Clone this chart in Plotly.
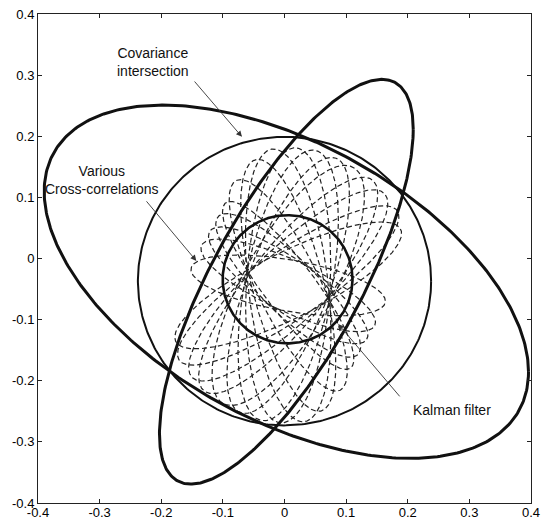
import numpy as np
import plotly.graph_objects as go

# ---- data ----
tick_vals = [-0.4, -0.3, -0.2, -0.1, 0.0, 0.1, 0.2, 0.3, 0.4]
tick_text = ["-0.4", "-0.3", "-0.2", "-0.1", "0", "0.1", "0.2", "0.3", "0.4"]

# outer solid ellipses: centre and covariance entries (sxx, sxy, syy)
ellipseA_center = [0.003, -0.038]
ellipseA_cov = [0.1544, -0.058, 0.0835]
ellipseB_center = [0.003, -0.038]
ellipseB_cov = [0.0424, 0.0513, 0.1096]

# covariance intersection ellipse
ci_center = [0.0, -0.037]
ci_cov = [0.0566, 0.0, 0.0557]

# Kalman filter ellipse
kalman_center = [0.005, -0.034]
kalman_cov = [0.0111, 0.0, 0.0110]

# various cross-correlation ellipses (dashed): common centre, each one given by two
# conjugate semi-diameters (angle in degrees, length)
cross_center = [0.006, -0.044]
cross_d_angle = [-24, -14, -21, -12, -23, -16, -20, -13, -22, -15, -19, -18, 225, 235, 245, 80]
cross_d_len = [0.068, 0.072, 0.066, 0.070, 0.074, 0.067, 0.071, 0.069, 0.073, 0.066, 0.070, 0.068,
               0.045, 0.043, 0.042, 0.042]
cross_e_angle = [30, 38, 46, 54, 62, 70, 78, 86, 94, 102, 112, 122, 135, 145, 155, 170]
cross_e_len = [0.200, 0.210, 0.215, 0.218, 0.220, 0.222, 0.225, 0.225, 0.222, 0.210, 0.185, 0.160,
               0.160, 0.155, 0.155, 0.160]

# annotations
label_ci = ["Covariance", "intersection"]
label_cc = ["Various", "Cross-correlations"]
label_kf = ["Kalman filter"]

t = np.linspace(0, 2 * np.pi, 400)


def cov_xy(center, cov):
    sxx, sxy, syy = cov
    a = np.sqrt(sxx)
    x = center[0] + a * np.cos(t)
    y = center[1] + (sxy / a) * np.cos(t) + np.sqrt(syy - sxy ** 2 / sxx) * np.sin(t)
    return x, y


fig = go.Figure()

for da, dl, ea, el in zip(cross_d_angle, cross_d_len, cross_e_angle, cross_e_len):
    dx, dy = dl * np.cos(np.radians(da)), dl * np.sin(np.radians(da))
    ex, ey = el * np.cos(np.radians(ea)), el * np.sin(np.radians(ea))
    x = cross_center[0] + dx * np.cos(t) + ex * np.sin(t)
    y = cross_center[1] + dy * np.cos(t) + ey * np.sin(t)
    fig.add_trace(go.Scatter(x=x, y=y, mode="lines",
                             line=dict(color="#222", width=1.2, dash="5px,3px"),
                             hoverinfo="skip", showlegend=False))

for center, cov, w in [(ci_center, ci_cov, 2.0), (kalman_center, kalman_cov, 2.6),
                       (ellipseA_center, ellipseA_cov, 3.0), (ellipseB_center, ellipseB_cov, 3.0)]:
    x, y = cov_xy(center, cov)
    fig.add_trace(go.Scatter(x=x, y=y, mode="lines", line=dict(color="#111", width=w),
                             hoverinfo="skip", showlegend=False))

font = dict(family="Liberation Sans, Arial, sans-serif", size=14, color="#111")
anns = []
anns.append(dict(x=-0.213, y=0.322, text="<br>".join(label_ci), showarrow=False, font=font))
anns.append(dict(x=-0.296, y=0.128, text="<br>".join(label_cc), showarrow=False, font=font))
anns.append(dict(x=0.272, y=-0.248, text=label_kf[0], showarrow=False, font=font))
for (x0, y0, x1, y1) in [(-0.148, 0.292, -0.069, 0.199),
                         (-0.226, 0.096, -0.143, -0.004),
                         (0.189, -0.228, 0.087, -0.107)]:
    anns.append(dict(x=x1, y=y1, ax=x0, ay=y0, xref="x", yref="y", axref="x", ayref="y",
                     text="", showarrow=True, arrowhead=2, arrowsize=1.3, arrowwidth=0.9,
                     arrowcolor="#333"))

axis_common = dict(range=[-0.4, 0.4], tickmode="array", tickvals=tick_vals, ticktext=tick_text,
                   ticks="inside", ticklen=4, tickcolor="#222", mirror="ticks",
                   showline=True, linecolor="#222", linewidth=1, showgrid=False,
                   zeroline=False, automargin=False,
                   tickfont=dict(family="Liberation Sans, Arial, sans-serif", size=13, color="#000"))

fig.update_layout(width=542, height=526, margin=dict(l=38, r=11, t=14, b=23),
                  paper_bgcolor="white", plot_bgcolor="white",
                  xaxis=dict(**axis_common, ticklabelstandoff=-3), yaxis=dict(**axis_common),
                  annotations=anns)

fig.write_html("out.html", config={"displayModeBar": False},
               post_script="document.body.style.margin='0px';document.body.style.overflow='hidden';")
